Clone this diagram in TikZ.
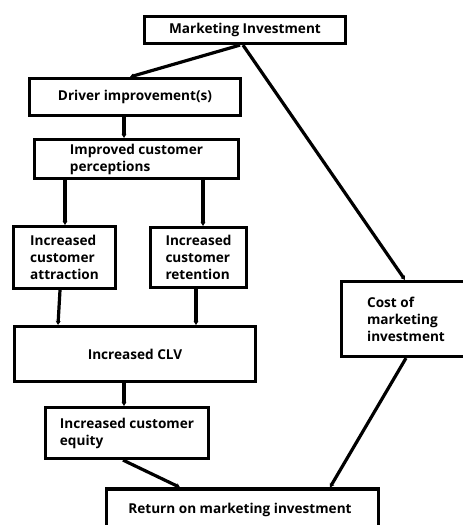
\documentclass[tikz,border=0pt]{standalone}
\usepackage{fontspec}
\setmainfont{Open Sans}
\usetikzlibrary{arrows.meta,calc}
\begin{document}
\begin{tikzpicture}[x=1pt,y=-1pt,
  box/.style={draw=black,line width=3.2pt,align=left,inner sep=0pt,
    font=\bfseries\fontsize{13.6}{17}\selectfont},
  arr/.style={line width=3.2pt,-{Stealth[length=4pt,width=5pt]}}]
\useasboundingbox (0,0) rectangle (463,525);
\clip (0,0) rectangle (463,525);
\fill[white] (0,0) rectangle (463,525);

\node[box,minimum width=201pt,minimum height=27pt] (mi) at (245,30) {Marketing Investment};
\node[box,minimum width=211pt,minimum height=37pt] (drv) at (135,97) {Driver improvement(s)};
\node[box,minimum width=204pt,minimum height=39pt] (imp) at (136.5,159) {Improved customer\\perceptions};
\node[box,minimum width=102pt,minimum height=62pt] (att) at (64.5,257.5) {Increased\\customer\\attraction};
\node[box,minimum width=96pt,minimum height=60pt] (ret) at (198.5,257.5) {Increased\\customer\\retention};
\node[box,minimum width=241pt,minimum height=55pt] (clv) at (135,354) {Increased CLV};
\node[box,minimum width=129pt,minimum height=75pt] (cost) at (406,319) {Cost of\\marketing\\investment};
\node[box,minimum width=163pt,minimum height=51pt] (eq) at (127,433) {Increased customer\\equity};
\node[box,minimum width=272pt,minimum height=44pt] (roi) at (242.5,511) {};
\node[font=\bfseries\fontsize{13.6}{17}\selectfont] (roitext) at (240,510) {Return on marketing investment};

\draw[arr] (mi.south -| 240,0) -- (drv.north -| 130,0);
\draw[arr] (mi.south -| 243,0) -- (cost.north -| 405,0);
\draw[arr] (drv.south -| 124,0) -- (imp.north -| 124,0);
\draw[arr] (imp.south -| 65,0) -- (att.north -| 65,0);
\draw[arr] (imp.south -| 203,0) -- (ret.north -| 203,0);
\draw[arr] (att.south -| 60,0) -- (clv.north -| 58,0);
\draw[arr] (ret.south -| 196,0) -- (clv.north -| 196,0);
\draw[arr] (clv.south -| 124,0) -- (eq.north -| 124,0);
\draw[arr] (eq.south -| 123,0) -- (roi.north -| 180,0);
\draw[arr] (cost.south -| 406,0) -- (roi.north -| 330,0);
\end{tikzpicture}
\end{document}
